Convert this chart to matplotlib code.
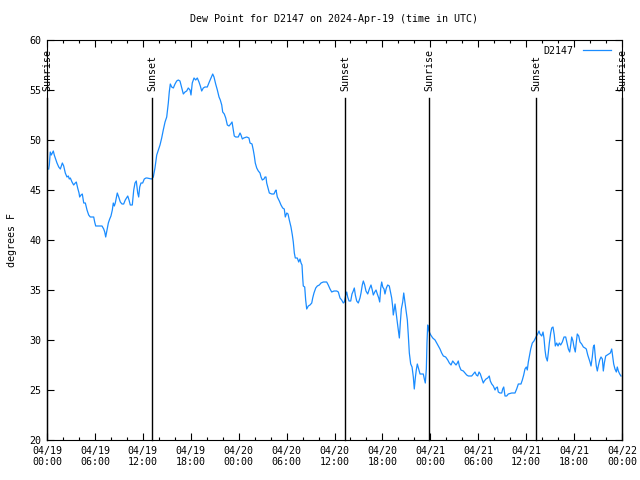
import numpy as np
import pandas as pd
import matplotlib
matplotlib.use("Agg")
import matplotlib.pyplot as plt
import matplotlib.dates as mdates

#%% data: hours since 2024-04-19 00:00 UTC and dew point (F)
hours = [
    0.21, 0.29, 0.41, 0.54, 0.66, 0.79, 0.91, 1.04, 1.25, 1.47, 1.67, 1.79, 1.92, 2.09, 2.29, 2.50,
    2.67, 2.79, 2.92, 3.13, 3.34, 3.54, 3.67, 3.84, 4.01, 4.09, 4.26, 4.42, 4.60, 4.80, 5.01, 5.22,
    5.42, 5.85, 5.97, 6.10, 6.89, 7.10, 7.23, 7.35, 7.51, 7.68, 7.85, 8.01, 8.18, 8.30, 8.43, 8.55,
    8.68, 8.80, 8.98, 9.18, 9.39, 9.60, 9.80, 10.11, 10.27, 10.43, 10.68, 10.86, 11.02, 11.18, 11.36,
    11.48, 11.61, 11.77, 11.98, 12.18, 12.40, 12.52,
    13.11, 13.31, 13.52, 13.74, 13.94, 14.15, 14.36, 14.56, 14.78, 14.99, 15.19, 15.31, 15.44, 15.61,
    15.82, 16.03, 16.24, 16.44, 16.65, 16.87, 17.07, 17.28, 17.49, 17.69, 17.91, 18.03, 18.19, 18.41,
    18.62, 18.82, 19.03, 19.20, 19.37, 19.57, 19.78, 20.07, 20.32, 20.54, 20.75, 20.91, 21.12, 21.33,
    21.54, 21.70, 21.88, 22.00, 22.20, 22.38, 22.58, 22.79, 23.00, 23.17, 23.33, 23.45, 23.63, 23.95,
    24.17, 24.29, 24.46, 24.63,
    25.01, 25.29, 25.42, 25.67, 25.83, 25.96, 26.08, 26.26, 26.46, 26.67, 26.80, 26.96, 27.17, 27.30,
    27.42, 27.51, 27.67, 27.84, 28.14, 28.42, 28.59, 28.68, 28.84, 29.09, 29.30, 29.51, 29.71, 29.84,
    30.02, 30.18, 30.34, 30.55, 30.72, 30.84, 30.97, 31.09, 31.34, 31.52, 31.68, 31.81, 31.93, 32.02,
    32.09, 32.27, 32.39, 32.52, 32.72, 32.93, 33.15, 33.27, 33.43, 33.65, 33.85, 34.10, 34.31, 34.60,
    35.02, 35.22, 35.44, 35.65, 35.94, 36.28, 36.48, 36.69,
    36.90, 37.10, 37.23, 37.40, 37.53, 37.65, 37.82, 38.03, 38.19, 38.35, 38.48, 38.61, 38.78, 38.98,
    39.19, 39.32, 39.48, 39.61, 39.78, 39.94, 40.16, 40.36, 40.57, 40.73, 40.86, 41.04, 41.20, 41.36,
    41.54, 41.66, 41.79, 41.91, 42.04, 42.20, 42.32, 42.49, 42.66, 42.86, 42.99, 43.16, 43.29, 43.36,
    43.49, 43.58, 43.70, 43.86, 43.99, 44.12, 44.24, 44.37, 44.54, 44.67, 44.83, 44.95, 45.12, 45.24,
    45.37, 45.54, 45.71, 45.87, 45.99, 46.12, 46.24, 46.37, 46.54, 46.71, 47.12, 47.25, 47.37, 47.50,
    47.58, 47.67, 47.80, 47.87, 48.05, 48.30, 48.59,
    48.80, 49.00, 49.21, 49.42, 49.63, 49.92, 50.18, 50.38, 50.59, 50.80, 51.00, 51.22, 51.38, 51.50,
    51.63, 51.84, 52.13, 52.34, 52.55, 52.76, 53.18, 53.38, 53.59, 53.76, 53.93, 54.10, 54.26, 54.43,
    54.63, 54.76, 54.97, 55.18, 55.38, 55.51, 55.69, 55.89, 56.10, 56.22, 56.39, 56.51, 56.72, 56.94,
    57.06, 57.19, 57.35, 57.56, 57.76, 58.19, 58.60, 58.81, 59.02, 59.35, 59.52, 59.69, 59.85, 60.02,
    60.14, 60.27, 60.39, 60.57, 60.77, 60.98,
    61.23, 61.44, 61.61, 61.73, 61.95, 62.11, 62.23, 62.36, 62.48, 62.65, 62.77, 62.90, 63.07, 63.20,
    63.36, 63.52, 63.65, 63.82, 63.99, 64.15, 64.32, 64.53, 64.74, 64.95, 65.11, 65.28, 65.45, 65.58,
    65.70, 65.86, 65.99, 66.15, 66.28, 66.40, 66.58, 66.74, 66.95, 67.16, 67.37, 67.53, 67.71, 67.87,
    67.99, 68.12, 68.28, 68.41, 68.53, 68.66, 68.78, 68.91, 69.03, 69.21, 69.37, 69.54, 69.66, 69.79,
    69.96, 70.16, 70.37, 70.54, 70.71, 70.84, 70.96, 71.12, 71.29, 71.41, 71.54, 71.71, 71.87,
]
dewpoint = [
    47.1, 47.5, 48.8, 48.5, 48.7, 48.9, 48.5, 48.2, 47.7, 47.3, 47.1, 47.4, 47.7, 47.4, 46.7, 46.3,
    46.4, 46.1, 46.2, 45.8, 45.5, 45.7, 45.8, 45.2, 44.7, 44.3, 44.5, 44.6, 43.7, 43.7, 43.0, 42.5,
    42.3, 42.3, 41.8, 41.4, 41.4, 41.1, 40.8, 40.3, 41.0, 41.7, 42.1, 42.4, 43.0, 43.7, 43.4, 43.7,
    44.2, 44.7, 44.3, 43.8, 43.6, 43.6, 44.0, 44.4, 44.0, 43.5, 43.5, 45.0, 45.7, 45.9, 44.7,
    44.3, 45.3, 45.7, 45.7, 46.1, 46.2, 46.2,
    46.1, 46.3, 47.2, 48.5, 49.0, 49.5, 50.2, 51.0, 51.8, 52.3, 53.7, 54.8, 55.6, 55.3,
    55.2, 55.6, 55.9, 56.0, 55.9, 55.2, 54.6, 54.8, 54.9, 55.2, 55.0, 54.5, 55.7, 56.2,
    56.0, 56.2, 55.8, 55.4, 54.9, 55.2, 55.3, 55.3, 55.8, 56.2, 56.6, 56.3, 55.6, 55.0,
    54.3, 54.0, 53.5, 52.8, 52.6, 52.2, 51.5, 51.4, 51.6, 51.8, 51.0, 50.4, 50.3, 50.3,
    50.7, 50.5, 50.1, 50.2,
    50.3, 50.2, 49.7, 49.6, 49.0, 48.4, 47.7, 47.2, 46.9, 46.7, 46.3, 46.0, 46.1, 46.3,
    46.3, 45.7, 45.2, 44.7, 44.6, 44.6, 44.9, 45.0, 44.3, 43.9, 43.5, 43.2, 43.1, 42.3,
    42.7, 42.6, 42.0, 41.3, 40.5, 39.8, 38.7, 38.2, 38.2, 37.8, 38.1, 37.7, 37.5, 36.2,
    35.4, 35.3, 34.0, 33.1, 33.4, 33.5, 33.7, 34.2, 34.7, 35.2, 35.4, 35.5, 35.7, 35.8,
    35.8, 35.5, 35.1, 34.8, 34.9, 34.9, 34.8, 34.2,
    34.0, 33.7, 33.8, 34.5, 34.8, 34.3, 33.9, 33.9, 34.6, 34.9, 35.2, 34.5, 33.9, 33.7,
    34.2, 34.7, 35.5, 35.9, 35.5, 34.9, 34.6, 35.1, 35.5, 35.0, 34.5, 34.8, 35.0, 34.6,
    34.2, 33.8, 35.2, 35.8, 35.3, 35.1, 34.6, 35.2, 35.5, 35.4, 34.9, 34.2, 33.3, 32.5,
    33.1, 33.6, 32.8, 31.8, 31.0, 30.2, 31.7, 33.1, 33.8, 34.7, 33.7, 33.0, 32.0, 30.5,
    28.7, 27.6, 27.3, 26.3, 25.1, 26.2, 27.0, 27.6, 27.1, 26.6, 26.6, 26.1, 25.7, 27.1,
    29.7, 31.5, 31.0, 30.8, 30.5, 30.2, 30.0,
    29.7, 29.4, 29.1, 28.7, 28.4, 28.3, 28.0, 27.7, 27.5, 27.9, 27.7, 27.5, 27.7, 27.9,
    27.4, 27.0, 26.9, 26.7, 26.5, 26.4, 26.4, 26.6, 26.8, 26.5, 26.4, 26.8, 26.6, 26.2,
    25.7, 25.9, 26.1, 26.2, 26.4, 25.9, 25.6, 25.4, 25.0, 25.2, 25.3, 24.8, 24.7, 24.7,
    25.1, 25.3, 24.4, 24.4, 24.6, 24.7, 24.7, 25.1, 25.6, 25.6, 26.0, 26.5, 27.1, 27.3,
    27.0, 27.8, 28.3, 29.1, 29.7, 29.9,
    30.3, 30.6, 30.9, 30.6, 30.4, 30.8, 30.2, 29.0, 28.3, 27.9, 28.7, 29.7, 30.7, 31.2,
    31.3, 30.5, 29.4, 29.7, 29.4, 29.7, 29.5, 29.8, 30.3, 30.3, 29.7, 29.1, 28.8, 29.5,
    30.3, 29.9, 29.3, 28.8, 29.8, 30.6, 30.4, 29.8, 29.6, 29.3, 29.2, 29.1, 28.5, 28.1,
    27.8, 27.4, 28.3, 29.3, 29.5, 28.3, 27.4, 26.9, 27.4, 28.0, 28.3, 28.1, 26.9, 27.7,
    28.4, 28.5, 28.6, 28.7, 29.1, 28.3, 27.6, 27.1, 26.8, 27.3, 26.9, 26.6, 26.4,
]

# sun events, hours since start
sun_hours = [0.0, 13.15, 37.32, 47.83, 61.23, 72.0]
sun_names = ["Sunrise", "Sunset", "Sunset", "Sunrise", "Sunset", "Sunrise"]

start = pd.Timestamp("2024-04-19 00:00")
times = start + pd.to_timedelta(hours, unit="h")
sun_times = start + pd.to_timedelta(sun_hours, unit="h")

plt.rcParams["font.family"] = "DejaVu Sans Mono"
fs = 7.2
fig = plt.figure(figsize=(6.4, 4.8), dpi=100)
ax = fig.add_axes([47 / 640, 40 / 480, 575 / 640, 400 / 480])

ax.plot(times, dewpoint, color="#1a8cff", lw=0.9, label="D2147")

for t, name in zip(sun_times, sun_names):
    ax.plot([t, t], [20, 54.2], color="black", lw=1.0, clip_on=False)
    ax.text(t, 54.85, name, rotation=90, ha="center", va="bottom", fontsize=fs, clip_on=False)

ax.set_xlim(start, start + pd.Timedelta(hours=72))
ax.set_ylim(20, 60)
ax.set_yticks(np.arange(20, 61, 5))
ax.xaxis.set_major_locator(mdates.HourLocator(byhour=[0, 6, 12, 18]))
ax.xaxis.set_minor_locator(mdates.HourLocator(byhour=range(0, 24, 2)))
ax.xaxis.set_major_formatter(mdates.DateFormatter("%m/%d\n%H:%M"))
ax.tick_params(which="both", direction="in", top=True, right=True, labelsize=fs, pad=4)
ax.tick_params(which="major", length=5, width=0.8)
ax.tick_params(which="minor", length=2.5, width=0.8)
for sp in ax.spines.values():
    sp.set_linewidth(0.8)

ax.set_ylabel("degrees F", fontsize=fs, labelpad=9)
ax.set_title("Dew Point for D2147 on 2024-Apr-19 (time in UTC)", fontsize=fs, pad=13)
ax.legend(loc="upper right", frameon=False, markerfirst=False, fontsize=fs,
          handlelength=2.8, handletextpad=0.9, borderaxespad=0.2,
          bbox_to_anchor=(0.991, 1.0))

fig.savefig("out.png", dpi=100)
